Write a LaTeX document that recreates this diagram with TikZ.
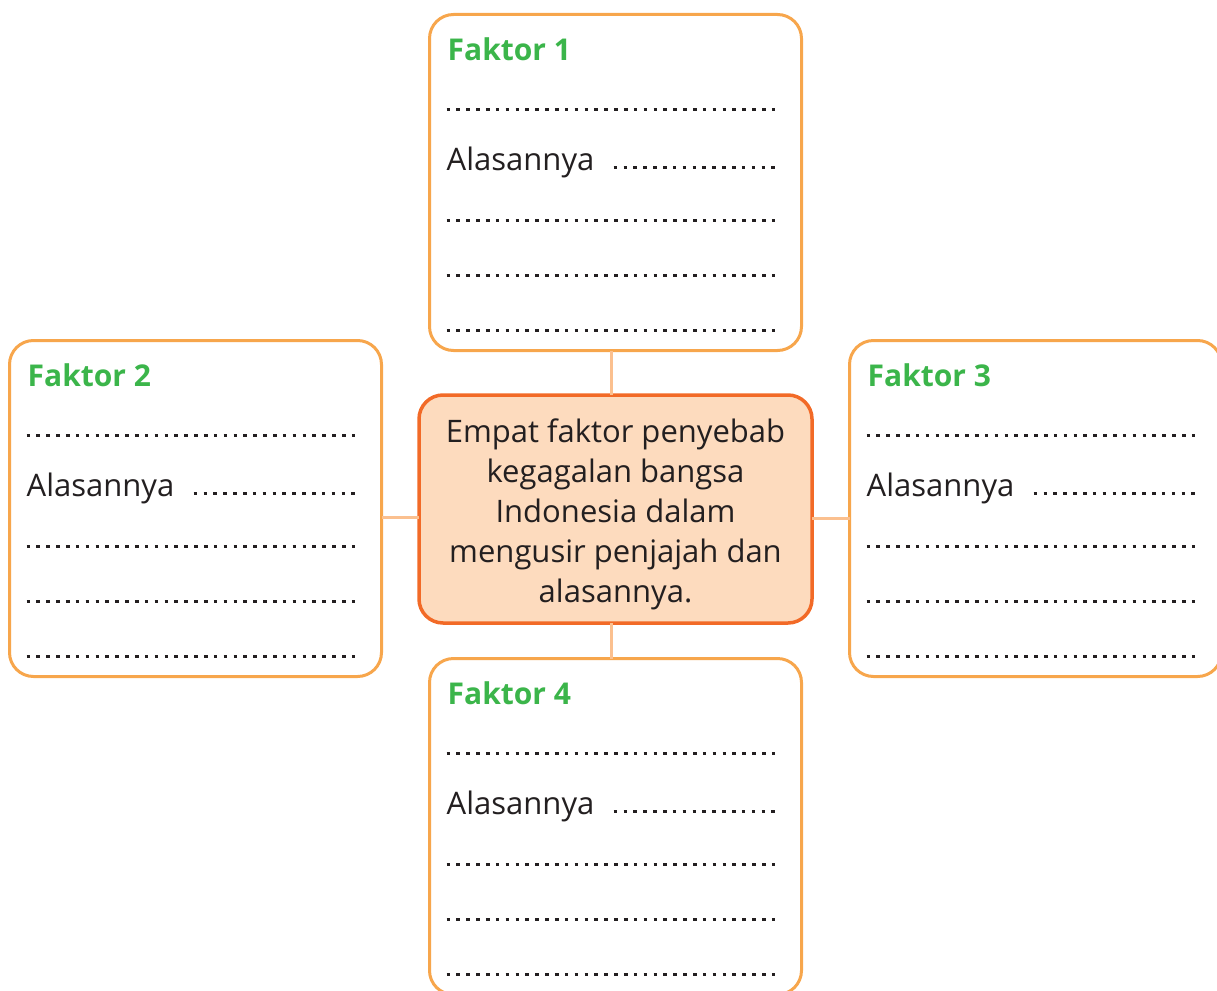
\documentclass[tikz,border=0pt]{standalone}
\usepackage{fontspec}
\setmainfont{Open Sans}
\usetikzlibrary{calc}
\definecolor{boxorange}{HTML}{F7A64C}
\definecolor{linkorange}{HTML}{FBC08F}
\definecolor{hubline}{HTML}{F26A27}
\definecolor{hubfill}{HTML}{FDDBBE}
\definecolor{titlegreen}{HTML}{3BB54A}
\definecolor{ink}{HTML}{231F20}
\tikzset{
  factorbox/.style={draw=boxorange, line width=3pt, rounded corners=24pt,
    minimum width=372pt, minimum height=336pt, inner sep=0pt, outer sep=0pt, fill=white},
  hubbox/.style={draw=hubline, fill=hubfill, line width=3.5pt, rounded corners=24pt,
    minimum width=393pt, minimum height=228pt, inner sep=0pt, outer sep=0pt},
  hubtext/.style={align=center, inner sep=0pt, text=ink,
    font=\fontsize{31}{40}\selectfont},
  titletext/.style={anchor=base west, inner sep=0pt, text=titlegreen,
    font=\fontsize{30}{36}\selectfont\bfseries},
  bodytext/.style={anchor=base west, inner sep=0pt, text=ink,
    font=\fontsize{31}{36}\selectfont},
  dotline/.style={draw=ink, line width=3.6pt, dash pattern=on 3.6pt off 6.26pt},
  link/.style={draw=linkorange, line width=3pt}
}
% one answer box: name, centre x, centre y, number
\newcommand\factorpanel[4]{%
  \node[factorbox] (#1) at (#2,#3) {};
  \node[titletext] (#1-title) at ($(#1.north west)+(18,46)$) {Faktor #4};
  \draw[dotline] ($(#1.north west)+(17,95)$) -- ++(329,0);
  \node[bodytext] (#1-why) at ($(#1.north west)+(17,156)$) {Alasannya};
  \draw[dotline] ($(#1.north west)+(184.2,153)$) -- ++(161.8,0);
  \draw[dotline] ($(#1.north west)+(17,206)$) -- ++(329,0);
  \draw[dotline] ($(#1.north west)+(17,261)$) -- ++(329,0);
  \draw[dotline] ($(#1.north west)+(17,316)$) -- ++(329,0);
}
\begin{document}
\begin{tikzpicture}[x=1pt,y=-1pt]
\useasboundingbox (0,0) rectangle (1217,990);
\factorpanel{f1}{615.5}{182.5}{1}
\factorpanel{f2}{195.5}{508.5}{2}
\factorpanel{f3}{1035.5}{508.5}{3}
\factorpanel{f4}{615.5}{826.5}{4}
\node[hubbox] (hub) at (615.5,509) {};
\node[hubtext] (hub-text) at ($(hub.center)+(0,5)$)
  {Empat faktor penyebab\\kegagalan bangsa\\Indonesia dalam\\mengusir penjajah dan\\alasannya.};
% connectors from the hub to the four panels
\draw[link] ([xshift=-4pt]f1.south) -- ([xshift=-4pt]f1.south |- hub.north);
\draw[link] ([xshift=-4pt]hub.south) -- ([xshift=-4pt]hub.south |- f4.north);
\draw[link] ([yshift=-9pt]f2.east) -- ([yshift=-9pt]f2.east -| hub.west);
\draw[link] ([yshift=-9pt]hub.east) -- ([yshift=-9pt]hub.east -| f3.west);
\end{tikzpicture}
\end{document}
